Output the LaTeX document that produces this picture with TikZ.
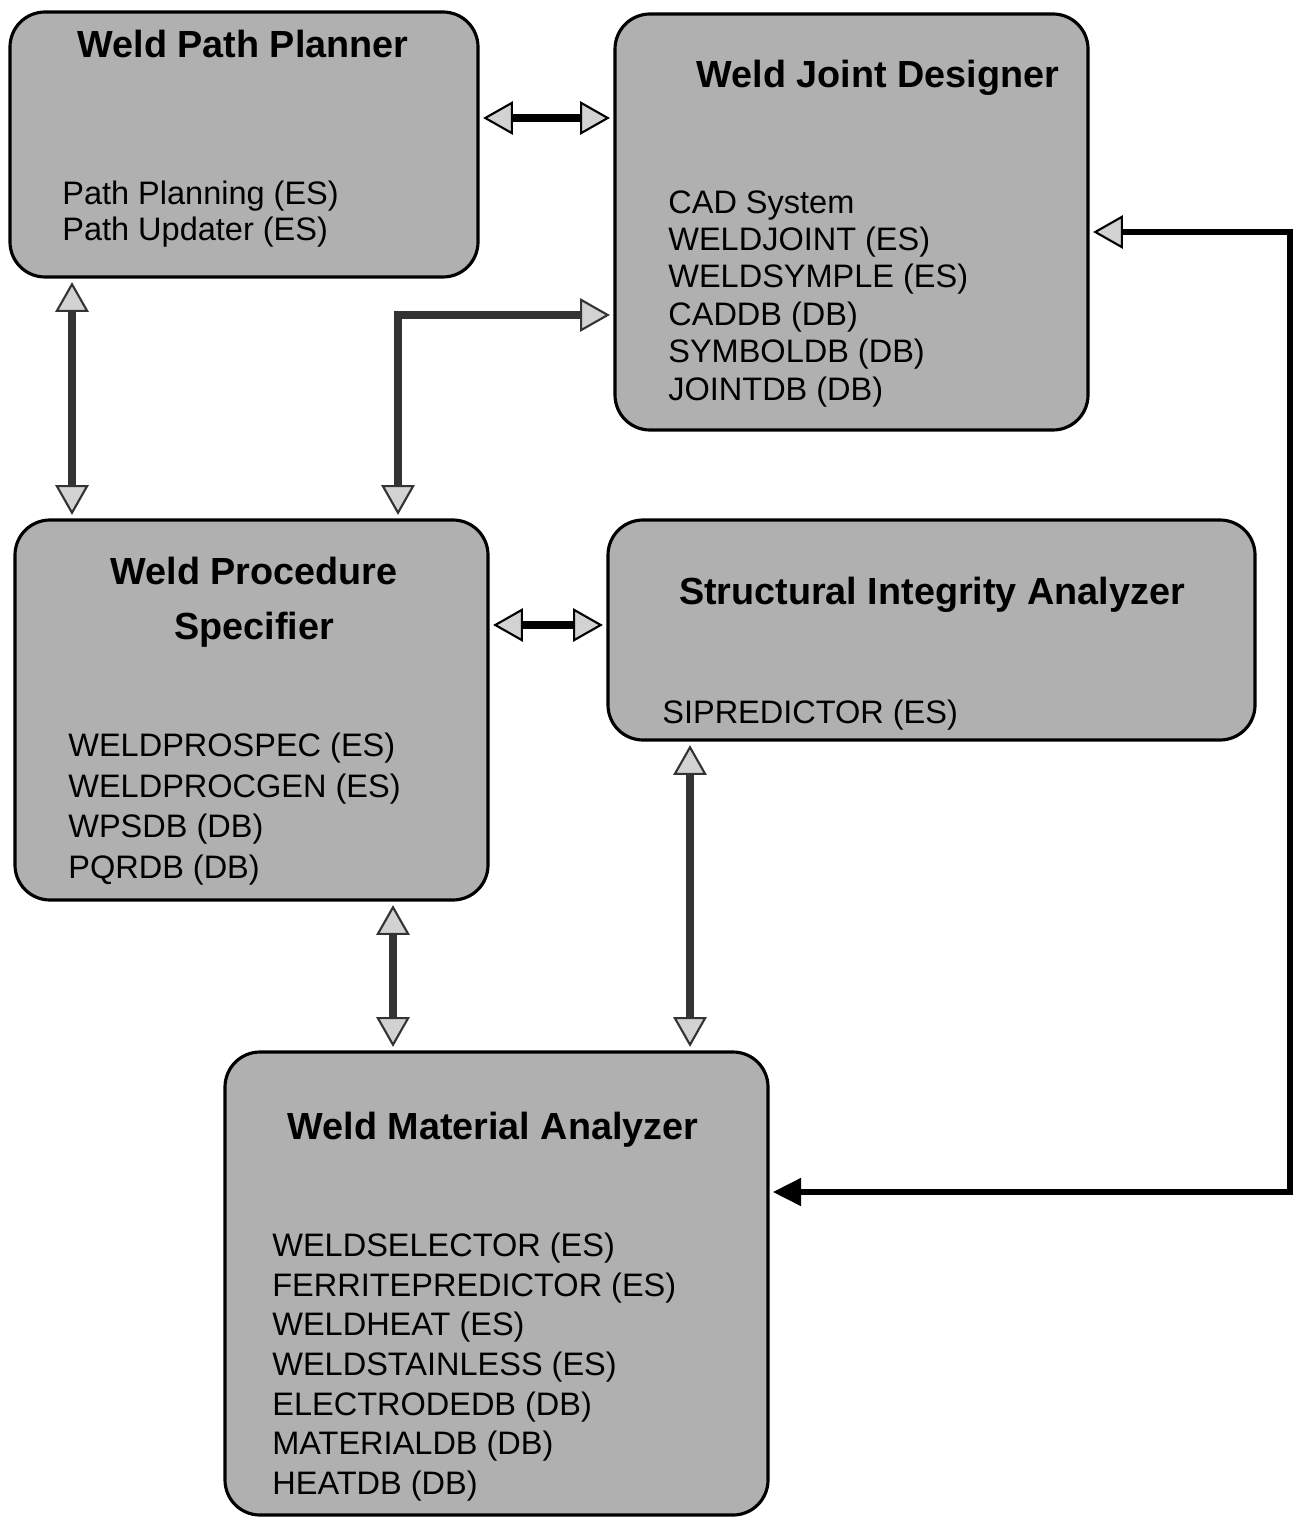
\documentclass[tikz,border=0pt]{standalone}
\usepackage{fontspec}
\setmainfont{Liberation Sans}
\usetikzlibrary{arrows.meta,fit}
\tikzset{
  tipg/.tip={Triangle[length=17pt,width=19pt,fill=gray!35,line width=1.2pt]},
  tipb/.tip={Triangle[length=16pt,width=16pt,fill=black,line width=1pt]},
}
\begin{document}
\begin{tikzpicture}[x=0.02cm,y=-0.02cm,
  box/.style={draw=black, line width=1.8pt, rounded corners=0.7cm, fill=gray!62, inner sep=0pt},
  ttl/.style={font=\bfseries\fontsize{21.5}{31}\selectfont, align=center, inner sep=0pt},
  items/.style={font=\fontsize{18.5}{22.5}\selectfont, align=left, anchor=north west, inner sep=0pt},
  conn/.style={line width=4.5pt, draw=black!80, arrows={tipg-tipg}, shorten <=2pt, shorten >=2pt},
  loopconn/.style={line width=3.5pt, draw=black, arrows={tipg-tipb}, shorten <=2pt, shorten >=2pt},
]
\useasboundingbox[fill=white] (0,0) rectangle (1309,1520);

% box corners
\coordinate (wppA) at (10,12);   \coordinate (wppB) at (478,277);
\coordinate (wjdA) at (615,14);  \coordinate (wjdB) at (1088,430);
\coordinate (wpsA) at (15,520);  \coordinate (wpsB) at (488,900);
\coordinate (siaA) at (608,520); \coordinate (siaB) at (1255,740);
\coordinate (wmaA) at (225,1052);\coordinate (wmaB) at (768,1515);

\node[box, fit=(wppA)(wppB)] (wpp) {};
\node[box, fit=(wjdA)(wjdB)] (wjd) {};
\node[box, fit=(wpsA)(wpsB)] (wps) {};
\node[box, fit=(siaA)(siaB)] (sia) {};
\node[box, fit=(wmaA)(wmaB)] (wma) {};

% titles
\node[ttl] (wppT) at (243,44) {Weld Path Planner};
\node[ttl] (wjdT) at (878,78) {Weld Joint Designer};
\node[ttl] (wpsT) at (254,602) {Weld Procedure\\Specifier};
\node[ttl] (siaT) at (932,595) {Structural Integrity Analyzer};
\node[ttl] (wmaT) at (493,1130) {Weld Material Analyzer};

% item lists
\node[items, font=\fontsize{18.5}{20}\selectfont] (wppL) at (62,181) {Path Planning (ES)\\Path Updater (ES)};
\node[items, font=\fontsize{18.5}{21.3}\selectfont] (wjdL) at (668,190) {CAD System\\WELDJOINT (ES)\\WELDSYMPLE (ES)\\CADDB (DB)\\SYMBOLDB (DB)\\JOINTDB (DB)};
\node[items, font=\fontsize{18.5}{23}\selectfont] (wpsL) at (68,733) {WELDPROSPEC (ES)\\WELDPROCGEN (ES)\\WPSDB (DB)\\PQRDB (DB)};
\node[items] (siaL) at (662,700) {SIPREDICTOR (ES)};
\node[items] (wmaL) at (272,1233) {WELDSELECTOR (ES)\\FERRITEPREDICTOR (ES)\\WELDHEAT (ES)\\WELDSTAINLESS (ES)\\ELECTRODEDB (DB)\\MATERIALDB (DB)\\HEATDB (DB)};

% helper coordinates for connector lines
\coordinate (h1) at (0,118);
\coordinate (h2) at (0,315);
\coordinate (h3) at (0,625);
\coordinate (h4) at (0,1192);
\coordinate (h5) at (0,232);
\coordinate (v1) at (72,0);
\coordinate (v2) at (398,0);
\coordinate (v3) at (393,0);
\coordinate (v4) at (690,0);
\coordinate (v5) at (1290,0);

% connectors
\draw[conn, draw=black] (wpp.east |- h1) -- (wjd.west |- h1);
\draw[conn] (wpp.south -| v1) -- (wps.north -| v1);
\draw[conn] (wps.north -| v2) |- (wjd.west |- h2);
\draw[conn, draw=black] (wps.east |- h3) -- (sia.west |- h3);
\draw[conn] (wps.south -| v3) -- (wma.north -| v3);
\draw[conn] (sia.south -| v4) -- (wma.north -| v4);
\draw[loopconn] (wjd.east |- h5) -| (v5 |- h4) -- (wma.east |- h4);
\end{tikzpicture}
\end{document}
